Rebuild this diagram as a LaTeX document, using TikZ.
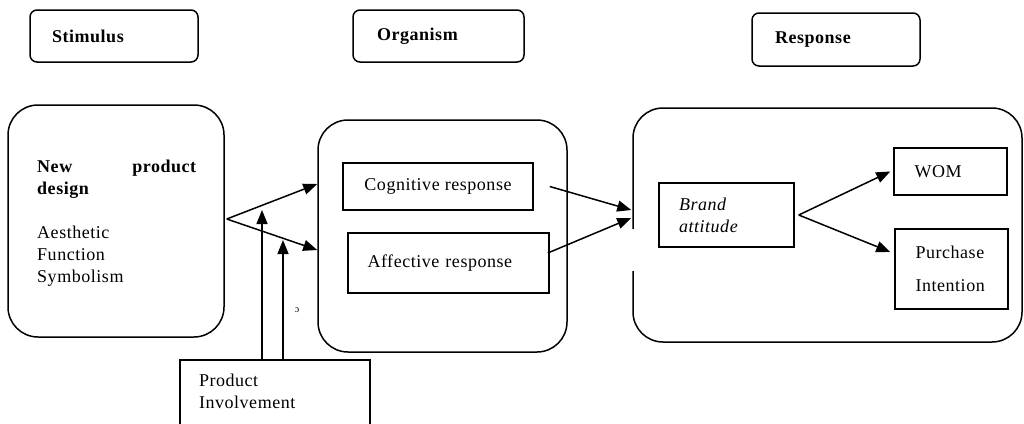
\documentclass[tikz,border=0pt]{standalone}
\usepackage{fontspec}
\setmainfont{Liberation Serif}[LetterSpace=3]
\usetikzlibrary{arrows.meta}
\begin{document}
\begin{tikzpicture}[x=1pt,y=-1pt,
  every node/.style={font=\fontsize{18}{22}\selectfont},
  hdr/.style={draw, line width=1.5pt, rounded corners=7pt, align=left, inner ysep=0pt, minimum height=52pt, font=\fontsize{18}{22}\selectfont\bfseries},
  bigbox/.style={draw, line width=1.5pt, rounded corners=30pt, inner sep=0pt},
  inbox/.style={draw, line width=1.5pt, inner ysep=0pt, align=left},
  arr/.style={line width=1.5pt, -{Triangle[length=14pt,width=11pt]}}]
\useasboundingbox (0,0) rectangle (1024,423);
% header boxes
\node[hdr, text width=124pt, inner xsep=22pt] (stim) at (114,36) {Stimulus};
\node[hdr, text width=123pt, inner xsep=24pt] (org) at (438.5,36) {Organism};
\node[hdr, text width=122pt, inner xsep=23pt, minimum height=53pt] (resp) at (836,39.5) {Response};
% big boxes
\node[bigbox, minimum width=216pt, minimum height=232pt] (stimbig) at (116,221) {};
\node[bigbox, minimum width=249pt, minimum height=232pt] (orgbig) at (442.5,236) {};
\node[bigbox, minimum width=389pt, minimum height=234pt] (respbig) at (827.5,225) {};
\draw[white, line width=4pt] (633,229) -- (633,271);
% stimulus content
\node[anchor=base west, inner sep=0pt, text width=159pt, align=left] (npd) at (37,172)
  {\bfseries New\hfill product\\ \bfseries design};
\node[anchor=base west, inner sep=0pt, align=left] (attr) at (37,282)
  {Aesthetic\\Function\\Symbolism};
% organism content
\node[inbox, minimum width=190pt, minimum height=47pt, align=center] (cog) at (438,186.5) {Cognitive response};
\node[inbox, text width=162pt, inner xsep=19.5pt, minimum height=60pt] (aff) at (448.5,263) {\raisebox{3pt}{Affective response}};
% response content
\node[inbox, text width=95pt, inner xsep=20pt, minimum height=64pt, font=\fontsize{18}{22}\selectfont\itshape] (brand) at (726.5,215) {Brand\\attitude};
\node[inbox, text width=72pt, inner xsep=20.5pt, minimum height=47pt] (wom) at (950.5,171.5) {WOM};
\node[inbox, text width=72pt, inner xsep=20.5pt, minimum height=80pt, font=\fontsize{18}{33}\selectfont] (pi) at (951.5,269) {Purchase\\Intention};
% involvement
\node[inbox, anchor=north, text width=152pt, inner xsep=19pt, minimum height=85pt, align=left, inner ysep=10pt] (inv) at (275,359) {Product\\Involvement\\\mbox{}};
\node[inner sep=0pt, font=\fontsize{10}{10}\selectfont] (mark) at (297,310) {ɔ};
% connectors
\draw[arr] ([xshift=2pt,yshift=2pt]stimbig.east) -- ([yshift=52pt]orgbig.west);
\draw[arr] ([xshift=2pt,yshift=2pt]stimbig.east) -- ([yshift=-14pt]orgbig.west);
\draw[arr] ([xshift=-13pt]inv.north) -- ++(0,-149);
\draw[arr] ([xshift=8pt]inv.north) -- ++(0,-119);
\draw[arr] ([xshift=16pt]cog.east) -- ([yshift=15pt,xshift=-1pt]respbig.west);
\draw[arr] ([xshift=-2pt,yshift=10pt]aff.east) -- ([yshift=7pt,xshift=-1pt]respbig.west);
\draw[arr] ([xshift=4pt]brand.east) -- ([xshift=-3pt]wom.west);
\draw[arr] ([xshift=4pt]brand.east) -- ([xshift=-4pt,yshift=17pt]pi.west);
\end{tikzpicture}
\end{document}
